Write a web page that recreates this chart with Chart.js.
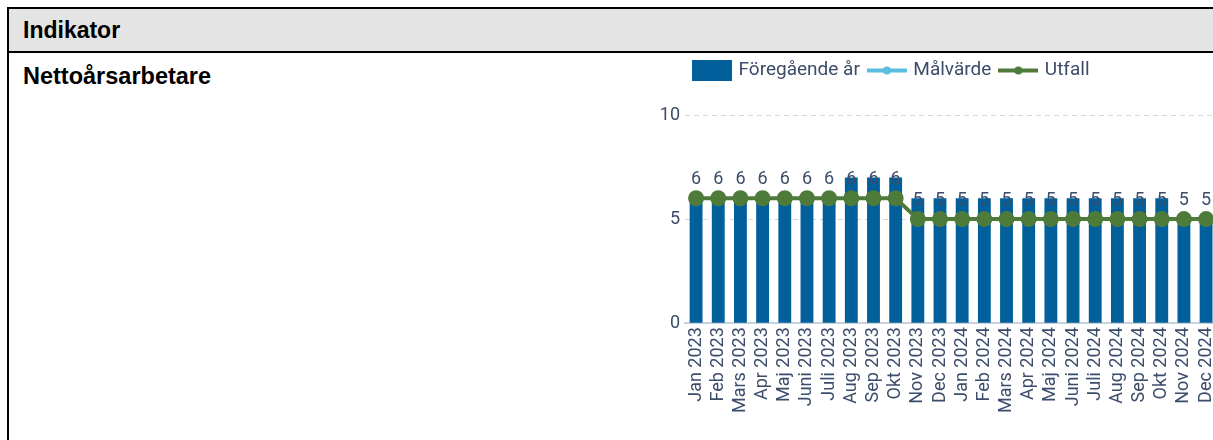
<!DOCTYPE html>
<html>
<head>
<meta charset="utf-8">
<title>Nettoårsarbetare</title>
<script src="https://cdn.jsdelivr.net/npm/chart.js@4"></script>
<style>
  body { margin: 0; overflow: hidden; background: #fff; font-family: "Liberation Sans", Arial, sans-serif; }
  .tbl { position: absolute; left: 7px; top: 7px; width: 1260px; height: 500px; border: 2px solid #000; }
  .head { height: 42px; line-height: 42px; background: #e4e4e4; border-bottom: 2px solid #000;
          font-weight: bold; font-size: 23px; padding-left: 14px; }
  .name { position: absolute; left: 14px; top: 54px; font-weight: bold; font-size: 23.5px; line-height: 26px; }
  .chartbox { position: absolute; left: 640px; top: 51px; width: 592px; height: 366px; }
</style>
</head>
<body>
<div class="tbl">
  <div class="head">Indikator</div>
  <div class="name">Nettoårsarbetare</div>
</div>
<div class="chartbox"><canvas id="chart"></canvas></div>

<script>
// data
var categories = ['Jan 2023', 'Feb 2023', 'Mars 2023', 'Apr 2023', 'Maj 2023', 'Juni 2023',
  'Juli 2023', 'Aug 2023', 'Sep 2023', 'Okt 2023', 'Nov 2023', 'Dec 2023',
  'Jan 2024', 'Feb 2024', 'Mars 2024', 'Apr 2024', 'Maj 2024', 'Juni 2024',
  'Juli 2024', 'Aug 2024', 'Sep 2024', 'Okt 2024', 'Nov 2024', 'Dec 2024'];
var foregaendeAr = [6, 6, 6, 6, 6, 6, 6, 7, 7, 7, 6, 6, 6, 6, 6, 6, 6, 6, 6, 6, 6, 6, 5, 5];
var malvarde = []; // no target values shown
var utfall = [6, 6, 6, 6, 6, 6, 6, 6, 6, 6, 5, 5, 5, 5, 5, 5, 5, 5, 5, 5, 5, 5, 5, 5];
var yTicks = [0, 5, 10];

var textColor = '#3c4d6b';
var barColor = '#01609b';
var targetColor = '#5bbde0';
var actualColor = '#4e7b3a';

// little pictures for the legend (box / line with dot)
function legendIcon(kind, color) {
  var c = document.createElement('canvas');
  c.width = 40; c.height = 21;
  var g = c.getContext('2d');
  g.fillStyle = color;
  g.strokeStyle = color;
  if (kind === 'bar') {
    g.fillRect(0, 0, 40, 21);
  } else {
    g.lineWidth = 4;
    g.beginPath(); g.moveTo(0, 10.5); g.lineTo(40, 10.5); g.stroke();
    g.beginPath(); g.arc(20, 10.5, 4, 0, Math.PI * 2); g.fill();
  }
  return c;
}
var icons = [legendIcon('bar', barColor), legendIcon('line', targetColor), legendIcon('line', actualColor)];

// extra room under the legend
var legendGap = {
  id: 'legendGap',
  beforeInit: function(chart) {
    var fit = chart.legend.fit;
    chart.legend.fit = function() {
      fit.bind(chart.legend)();
      this.height += 25;
    };
  }
};

// value labels above the Utfall points
var valueLabels = {
  id: 'valueLabels',
  afterDatasetsDraw: function(chart) {
    var ctx = chart.ctx;
    var meta = chart.getDatasetMeta(2);
    ctx.save();
    ctx.font = '18px Roboto';
    ctx.fillStyle = textColor;
    ctx.textAlign = 'center';
    ctx.textBaseline = 'middle';
    meta.data.forEach(function(pt, i) {
      ctx.fillText(utfall[i], pt.x, pt.y - 19);
    });
    ctx.restore();
  }
};

var ctx = document.getElementById('chart').getContext('2d');
new Chart(ctx, {
  type: 'bar',
  data: {
    labels: categories,
    datasets: [{
      label: 'Föregående år',
      data: foregaendeAr,
      backgroundColor: barColor,
      barPercentage: 0.58,
      categoryPercentage: 1,
      order: 3
    }, {
      type: 'line',
      label: 'Målvärde',
      data: malvarde,
      borderColor: targetColor,
      backgroundColor: targetColor,
      borderWidth: 4,
      pointRadius: 6,
      order: 2
    }, {
      type: 'line',
      label: 'Utfall',
      data: utfall,
      borderColor: actualColor,
      backgroundColor: actualColor,
      borderWidth: 4,
      pointRadius: 6,
      pointHoverRadius: 6,
      tension: 0,
      order: 1
    }]
  },
  options: {
    responsive: true,
    maintainAspectRatio: false,
    animation: false,
    layout: { padding: 0 },
    plugins: {
      tooltip: { enabled: false },
      legend: {
        position: 'top',
        align: 'start',
        fullSize: false,
        labels: {
          usePointStyle: true,
          pointStyleWidth: 34,
          padding: 10,
          color: textColor,
          font: { family: 'Roboto', size: 19 },
          generateLabels: function(chart) {
            return chart.data.datasets.map(function(ds, i) {
              return { text: ds.label, pointStyle: icons[i], fillStyle: ds.backgroundColor,
                       strokeStyle: ds.borderColor || ds.backgroundColor, lineWidth: 0,
                       hidden: false, datasetIndex: i, fontColor: textColor };
            });
          }
        }
      }
    },
    scales: {
      x: {
        grid: { display: false, drawTicks: false },
        border: { color: '#c6d2de', width: 2 },
        ticks: {
          color: textColor,
          font: { family: 'Roboto', size: 18 },
          maxRotation: 90,
          minRotation: 90,
          autoSkip: false,
          padding: 4
        }
      },
      y: {
        min: 0,
        max: 10,
        afterFit: function(scale) { scale.width = 45; },
        afterBuildTicks: function(scale) {
          scale.ticks = yTicks.map(function(v) { return { value: v }; });
        },
        border: { display: false, dash: [5, 4] },
        grid: { color: '#cfd8e1', drawTicks: false },
        ticks: {
          color: textColor,
          font: { family: 'Roboto', size: 18 },
          padding: 5
        }
      }
    }
  },
  plugins: [legendGap, valueLabels]
});
</script>
</body>
</html>
